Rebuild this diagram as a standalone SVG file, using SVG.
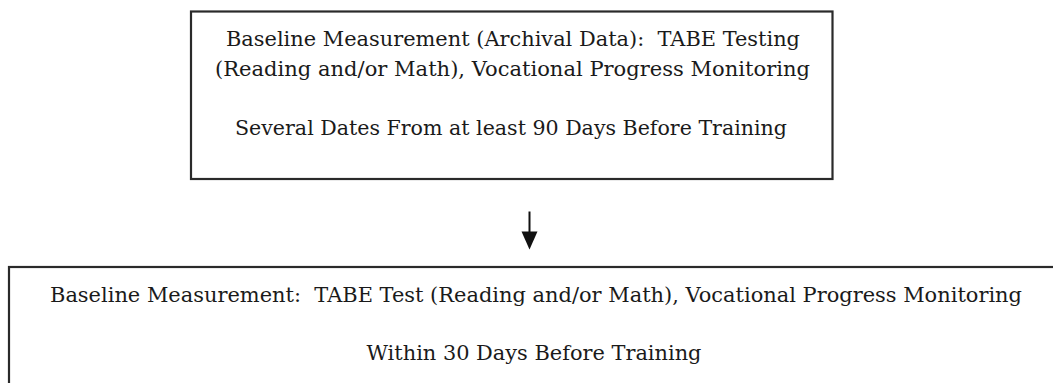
<svg xmlns="http://www.w3.org/2000/svg" width="1053" height="383" viewBox="0 0 1053 383">
  <style>
    .box { fill: #ffffff; stroke: #2a2a2a; stroke-width: 2.2; }
    .lbl { font-family: "DejaVu Serif", "Liberation Serif", serif; font-size: 21px; fill: #1a1a1a; text-anchor: middle; white-space: pre; }
    .conn { stroke: #111111; stroke-width: 2; fill: none; }
    .head { fill: #111111; }
  </style>
  <rect width="1053" height="383" fill="#ffffff"/>
  <g id="node-archival">
    <rect class="box" x="191" y="11.5" width="641.5" height="167.5"/>
    <text class="lbl" x="513" y="46" textLength="574" lengthAdjust="spacingAndGlyphs">Baseline Measurement (Archival Data):  TABE Testing</text>
    <text class="lbl" x="512.5" y="76" textLength="595" lengthAdjust="spacingAndGlyphs">(Reading and/or Math), Vocational Progress Monitoring</text>
    <text class="lbl" x="511" y="135" textLength="552" lengthAdjust="spacingAndGlyphs">Several Dates From at least 90 Days Before Training</text>
  </g>
  <g id="node-baseline">
    <rect class="box" x="9" y="267" width="1070" height="140"/>
    <text class="lbl" x="536" y="302" textLength="972" lengthAdjust="spacingAndGlyphs">Baseline Measurement:  TABE Test (Reading and/or Math), Vocational Progress Monitoring</text>
    <text class="lbl" x="534" y="360" textLength="335" lengthAdjust="spacingAndGlyphs">Within 30 Days Before Training</text>
  </g>
  <g id="connectors">
    <line class="conn" x1="529.5" y1="211.5" x2="529.5" y2="233"/>
    <path class="head" d="M521.5,231.5 L537.5,231.5 L529.5,249.5 Z"/>
  </g>
</svg>
